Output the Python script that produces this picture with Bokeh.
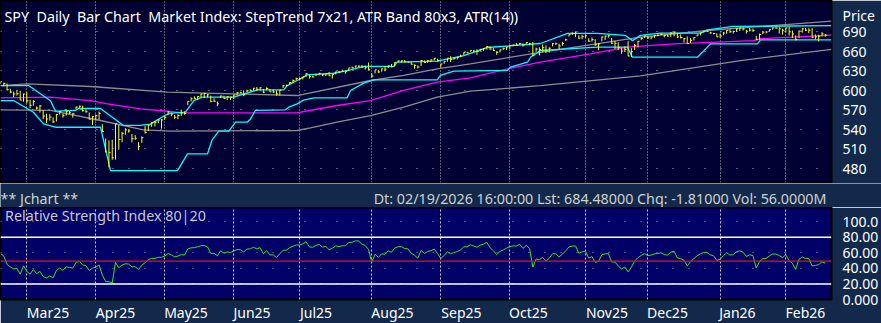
import numpy as np
from bokeh.plotting import figure
from bokeh.layouts import column
from bokeh.models import Range1d, FixedTicker, Span
from bokeh.core.properties import value
from bokeh.embed import file_html
from bokeh.resources import INLINE

# ---------------- data (SPY daily, 2025-02-19 .. 2026-02-19) ----------------
history_closes = [603.05, 606.44, 609.75, 607.97, 599.37, 604.52, 601.81, 605.04, 601.82, 597.77,
                  601.78, 604.22, 606.32, 600.77, 604.85, 605.31, 603.36, 609.73, 609.70, 611.49]

feb25_c = [612.93, 610.38, 600.77, 597.21, 594.24, 594.54, 584.96, 594.18]
feb25_h = [613.23, 611.49, 610.30, 602.23, 597.89, 599.58, 599.05, 594.72]
feb25_l = [609.56, 605.86, 599.47, 595.44, 589.56, 591.86, 584.55, 582.44]

mar25_c = [583.77, 576.86, 583.06, 572.71, 575.92, 560.58, 555.92, 558.87, 551.42, 562.81, 567.15,
           561.02, 567.13, 565.49, 563.98, 574.08, 575.46, 568.59, 567.08, 555.66, 559.39]
mar25_h = [597.34, 585.39, 584.88, 575.15, 577.39, 569.40, 564.02, 563.11, 558.39, 563.83, 568.01,
           564.45, 570.95, 568.18, 564.89, 575.15, 576.41, 576.33, 570.68, 565.94, 560.71]
mar25_l = [579.90, 572.25, 576.32, 570.16, 565.63, 555.62, 549.68, 553.35, 549.68, 551.88, 562.58,
           558.03, 561.02, 563.68, 558.03, 570.91, 573.03, 567.19, 565.61, 555.06, 546.87]

apr25_c = [560.97, 564.52, 536.70, 505.28, 504.38, 496.48, 548.62, 524.58, 533.94, 539.12, 537.61,
           525.66, 526.41, 513.88, 527.25, 535.42, 546.69, 550.64, 550.85, 554.32, 554.54]
apr25_h = [562.94, 567.42, 547.97, 525.87, 523.17, 524.00, 548.62, 546.69, 536.43, 541.82, 539.72,
           533.04, 531.17, 520.43, 529.24, 545.43, 547.43, 551.30, 553.21, 555.45, 555.78]
apr25_l = [553.68, 554.81, 536.42, 505.06, 481.80, 493.46, 493.55, 508.84, 520.29, 531.89, 535.10,
           520.07, 523.91, 508.14, 519.32, 533.71, 537.41, 543.57, 544.48, 549.42, 541.27]

may25_c = [558.47, 566.76, 563.51, 558.80, 561.15, 565.06, 564.34, 582.99, 586.84, 587.59, 590.46,
           594.20, 594.85, 592.85, 582.86, 583.09, 579.11, 591.15, 587.21, 590.05, 589.39]
may25_h = [560.45, 568.07, 564.95, 562.09, 563.06, 570.34, 567.50, 583.00, 589.08, 590.72, 590.97,
           594.50, 595.54, 594.05, 591.74, 587.78, 582.70, 591.69, 591.54, 591.08, 590.14]
may25_l = [554.68, 562.76, 560.24, 556.10, 555.62, 560.71, 562.63, 577.04, 582.86, 586.57, 585.10,
           589.28, 588.10, 589.06, 581.75, 581.94, 575.59, 587.98, 586.90, 584.93, 585.05]

jun25_c = [592.71, 596.09, 595.93, 593.05, 599.14, 599.68, 603.08, 601.36, 603.75, 597.00,
           602.68, 597.53, 597.44, 594.28, 600.15, 606.78, 607.12, 611.87, 614.91, 617.85]
jun25_h = [592.79, 597.08, 597.55, 599.70, 600.83, 601.59, 603.42, 605.06, 604.55, 601.85,
           604.45, 601.75, 601.22, 599.76, 600.54, 607.85, 608.61, 612.31, 616.39, 619.22]
jun25_l = [586.59, 591.85, 595.48, 590.96, 596.86, 598.89, 599.52, 599.21, 599.52, 595.47,
           600.22, 597.28, 595.78, 591.89, 591.68, 603.41, 605.54, 608.37, 610.83, 615.04]

jul25_c = [617.65, 620.45, 625.34, 620.68, 620.34, 624.06, 625.82, 623.62, 624.81, 622.14, 624.22,
           628.04, 627.58, 628.77, 628.86, 634.21, 634.42, 637.10, 636.94, 635.26, 634.46, 632.08]
jul25_h = [618.83, 620.49, 626.28, 624.03, 622.11, 624.72, 626.87, 624.86, 625.16, 627.86, 624.73,
           628.40, 629.47, 631.54, 629.05, 634.21, 636.23, 637.58, 638.04, 638.67, 637.68, 642.38]
jul25_l = [615.41, 616.61, 620.52, 617.87, 619.52, 621.53, 623.01, 621.53, 621.80, 622.06, 618.05,
           624.37, 626.93, 628.34, 625.30, 629.63, 633.54, 634.54, 635.48, 634.35, 631.54, 630.56]

aug25_c = [621.72, 631.17, 627.97, 632.78, 632.25, 637.18, 635.92, 642.69, 644.89, 644.95, 643.44,
           643.30, 639.81, 638.11, 635.55, 645.31, 642.47, 645.16, 646.38, 648.92, 645.05]
aug25_h = [626.34, 631.33, 631.17, 633.07, 636.96, 637.65, 640.12, 642.85, 645.37, 645.68, 646.19,
           644.00, 644.11, 639.66, 637.97, 646.50, 645.50, 646.06, 647.37, 649.48, 648.23]
aug25_l = [619.29, 625.80, 626.63, 628.29, 629.02, 633.97, 634.91, 636.85, 642.85, 642.24, 642.68,
           642.18, 639.12, 632.95, 633.29, 637.25, 642.34, 641.86, 643.14, 645.34, 643.51]

sep25_c = [640.27, 643.74, 649.12, 647.24, 648.83, 650.33, 652.21, 657.63, 657.41, 660.91, 660.00,
           659.18, 662.26, 663.70, 666.84, 663.21, 661.10, 658.05, 661.82, 663.68, 666.18]
sep25_h = [640.48, 644.21, 649.15, 652.21, 649.96, 650.86, 654.55, 658.33, 659.11, 661.04, 661.40,
           662.63, 663.59, 664.11, 667.34, 667.34, 664.61, 659.41, 662.37, 665.28, 666.65]
sep25_l = [634.92, 640.47, 643.51, 643.20, 646.72, 647.22, 650.63, 653.59, 656.90, 658.81, 658.43,
           654.23, 659.64, 660.21, 662.17, 661.98, 660.12, 654.43, 657.88, 661.61, 661.61]

oct25_c = [668.45, 669.22, 669.21, 671.61, 669.12, 673.11, 671.16, 653.02, 663.04, 662.23, 665.17, 660.64,
           664.39, 671.30, 671.29, 667.80, 671.76, 677.25, 685.24, 687.06, 687.39, 679.83, 682.06]
oct25_h = [669.37, 670.28, 672.68, 672.51, 671.90, 673.23, 672.68, 673.95, 665.13, 665.83, 670.23, 668.71,
           665.76, 672.21, 672.99, 671.41, 674.14, 678.86, 685.54, 688.91, 690.00, 684.16, 685.08]
oct25_l = [663.06, 667.33, 668.16, 669.61, 666.92, 670.16, 668.84, 652.84, 659.05, 653.17, 658.14, 657.11,
           657.69, 667.27, 669.41, 662.55, 668.17, 675.70, 682.10, 684.54, 681.32, 678.58, 678.26]

nov25_c = [683.34, 675.24, 677.58, 669.80, 670.97, 681.44, 683.00, 683.38, 672.04, 671.93,
           665.67, 660.08, 662.63, 652.53, 659.03, 668.73, 675.02, 679.68, 683.39]
nov25_h = [685.30, 679.35, 680.86, 678.10, 671.75, 682.18, 683.64, 684.96, 680.25, 675.72,
           673.71, 665.12, 667.23, 675.56, 664.55, 670.87, 675.54, 681.44, 683.74]
nov25_l = [679.94, 674.08, 674.34, 668.20, 661.21, 675.02, 677.07, 680.59, 670.99, 663.27,
           661.61, 655.86, 658.97, 651.89, 650.85, 661.66, 665.38, 676.78, 680.16]

dec25_c = [680.27, 681.53, 683.89, 684.39, 685.69, 683.63, 683.04, 687.57, 689.17, 681.76, 680.73,
           678.87, 671.40, 676.47, 680.59, 684.83, 687.96, 690.38, 690.31, 687.85, 687.01, 681.92]
dec25_h = [682.88, 682.91, 684.63, 685.27, 687.42, 685.39, 684.96, 688.88, 689.64, 687.41, 685.50,
           679.91, 682.45, 679.78, 681.09, 685.36, 688.20, 690.58, 691.66, 689.61, 688.04, 687.36]
dec25_l = [678.50, 677.95, 679.84, 682.70, 684.61, 680.96, 682.11, 681.71, 682.40, 679.99, 679.24,
           673.27, 671.23, 672.35, 676.17, 682.34, 684.04, 688.25, 689.26, 686.34, 685.60, 681.37]

jan26_c = [683.17, 687.72, 691.81, 689.58, 690.00, 694.07, 695.16, 694.00, 690.36, 692.24,
           691.66, 677.58, 685.40, 688.98, 689.23, 692.73, 695.49, 695.42, 694.04, 691.97]
jan26_h = [687.07, 689.35, 692.08, 693.28, 691.20, 694.86, 695.97, 696.09, 692.43, 695.34,
           694.50, 683.21, 686.84, 690.91, 690.40, 693.38, 696.21, 697.84, 696.47, 694.23]
jan26_l = [680.30, 684.18, 686.57, 687.97, 686.92, 689.48, 690.82, 691.52, 686.74, 689.95,
           690.35, 676.56, 676.88, 685.96, 687.44, 689.90, 692.65, 694.03, 686.64, 685.12]

feb26_c = [695.41, 689.53, 686.19, 677.62, 690.62, 693.95, 692.12, 691.96, 681.27, 681.75, 682.85, 686.29, 684.48]
feb26_h = [696.00, 697.40, 691.48, 683.92, 691.23, 695.00, 695.50, 694.99, 695.08, 685.60, 684.90, 689.03, 686.40]
feb26_l = [688.47, 684.10, 679.93, 676.25, 680.20, 688.40, 690.62, 687.40, 679.80, 677.80, 674.53, 682.30, 681.90]

closes = (feb25_c + mar25_c + apr25_c + may25_c + jun25_c + jul25_c + aug25_c + sep25_c
          + oct25_c + nov25_c + dec25_c + jan26_c + feb26_c)
highs = (feb25_h + mar25_h + apr25_h + may25_h + jun25_h + jul25_h + aug25_h + sep25_h
         + oct25_h + nov25_h + dec25_h + jan26_h + feb26_h)
lows = (feb25_l + mar25_l + apr25_l + may25_l + jun25_l + jul25_l + aug25_l + sep25_l
        + oct25_l + nov25_l + dec25_l + jan26_l + feb26_l)
assert len(closes) == len(highs) == len(lows) == 252

# month starts (bar index, grid lines) and the centres of their labels (bar index)
month_starts = [8, 29, 50, 71, 91, 113, 134, 155, 178, 197, 219, 239]
month_label_pos = [14.46, 35.0, 56.45, 76.54, 96.01, 119.29, 140.29, 160.68, 184.57, 202.98, 224.28, 244.98]
month_labels = ["Mar25", "Apr25", "May25", "Jun25", "Jul25", "Aug25",
                "Sep25", "Oct25", "Nov25", "Dec25", "Jan26", "Feb26"]

# indicator lines (bar index, price)
step_upper_x = [0, 8.52, 15.22, 16.74, 22.82, 23.74, 30.43, 37.43, 42.6, 45.65, 50.21, 51.73, 56.3,
                58.83, 61.38, 71.0, 78.12, 86.21, 87.25, 90.29, 93.34, 101.43, 106.51, 110.56, 119.69,
                120.72, 132.9, 141.0, 148.2, 164.33, 172.55, 181.68, 190.2, 192.33, 194.77, 200.85,
                213.02, 215.15, 223.07, 252.9]
step_upper_y = [607.2, 607.2, 584.0, 568.0, 569.0, 572.0, 572.0, 546.0, 546.0, 548.0, 562.0, 565.0, 566.3,
                584.0, 589.3, 589.3, 600.6, 600.6, 607.0, 614.9, 623.6, 626.0, 631.3, 636.4, 636.4,
                643.0, 644.5, 653.2, 665.5, 671.6, 687.0, 687.0, 684.0, 676.0, 684.0, 687.4,
                687.4, 692.6, 697.7, 699.0]

step_lower_x = [0, 3.96, 10.04, 13.09, 16.74, 30.43, 33.48, 53.87, 56.91, 63.0, 64.42, 66.43, 69.48,
                71.52, 75.08, 76.08, 77.6, 86.73, 87.74, 90.29, 92.3, 95.34, 105.51, 106.51, 110.56,
                113.6, 132.9, 133.9, 137.96, 154.29, 155.2, 160.38, 161.29, 164.33, 181.68, 190.81,
                192.33, 212.1, 215.15, 216.07, 230.37, 231.28, 252.9]
step_lower_y = [584.2, 584.2, 566.3, 548.5, 543.3, 543.3, 476.9, 476.9, 502.5, 502.5, 524.0, 537.2, 537.2,
                551.0, 551.0, 556.0, 569.0, 570.0, 574.0, 579.0, 585.0, 588.4, 588.4, 599.6, 610.8,
                616.0, 616.0, 622.6, 629.2, 630.3, 635.3, 642.9, 650.6, 660.9, 666.0, 666.0,
                650.6, 650.6, 666.0, 671.1, 671.1, 677.3, 677.3]

trend_x = [0, 15.22, 27.39, 32.56, 42.6, 51.73, 54.78, 90.29, 92.3, 102.4, 112.6, 122.7, 132.9, 143.0,
           154.3, 164.3, 179.5, 190.8, 204.8, 229.2, 231.3, 252.9]
trend_y = [588.4, 589.3, 584.2, 579.2, 571.5, 567.4, 565.4, 565.4, 567.4, 576.6, 584.2, 599.6, 612.3, 619.0,
           632.8, 643.0, 655.8, 666.0, 671.0, 676.0, 679.0, 684.5]

band_up_x = [0, 8.22, 27.39, 50.82, 70.9, 90.29, 112.6, 122.7, 132.9, 143.0, 164.3, 194.8, 215.2, 252.9]
band_up_y = [607.2, 609.8, 605.7, 597.0, 594.5, 591.9, 614.9, 622.6, 632.8, 640.5, 658.0, 681.3, 691.5, 706.0]
band_lo_x = [0, 15.22, 30.43, 43.5, 51.73, 90.29, 94.34, 102.4, 112.6, 122.7, 132.9, 143.0, 164.3,
             194.8, 225.2, 252.9]
band_lo_y = [570.0, 569.0, 553.6, 539.3, 537.2, 538.3, 542.4, 551.0, 561.2, 574.0, 589.3, 598.5, 607.0,
             622.0, 645.5, 662.5]

rsi_period = 14
rsi_upper, rsi_lower, rsi_signal = 80, 20, 49.3
price_ticks = [480, 510, 540, 570, 600, 630, 660, 690]
rsi_ticks = [0, 20, 40, 60, 80, 100]
rsi_tick_labels = ["0.000", "20.00", "40.00", "60.00", "80.00", "100.0"]

title_text = "SPY\u00a0 Daily\u00a0 Bar Chart\u00a0 Market Index: StepTrend 7x21, ATR Band 80x3, ATR(14))"
left_info = "** Jchart **"
right_info = "Dt: 02/19/2026 16:00:00 Lst: 684.48000 Chq: -1.81000 Vol: 56.0000M"
rsi_title = "Relative Strength Index 80|20"

# ---------------- RSI (Wilder, SMA seeded) ----------------
all_c = np.array(history_closes + closes, dtype=float)
diffs = np.diff(all_c)
gains = np.clip(diffs, 0, None)
losses = np.clip(-diffs, 0, None)
ag = gains[:rsi_period].mean()
al = losses[:rsi_period].mean()
rsi_full = {}
for i in range(rsi_period, len(diffs)):
    ag = (ag * (rsi_period - 1) + gains[i]) / rsi_period
    al = (al * (rsi_period - 1) + losses[i]) / rsi_period
    rsi_full[i + 1] = 100 - 100 / (1 + ag / al)
h = len(history_closes)
rsi = np.array([rsi_full[k] for k in range(h, len(all_c))])

# ---------------- styling ----------------
FONT = "Noto Sans"
NAVY = "#13294b"
TOP_BG = "#000033"
RSI_BG = "#000066"
idx = np.arange(len(closes))
xr = Range1d(0, 252.9)


def style_axis(ax):
    ax.axis_line_color = None
    ax.major_tick_line_color = None
    ax.minor_tick_line_color = None
    ax.major_label_text_color = "white"
    ax.major_label_text_font = FONT
    ax.major_label_text_font_size = "14px"


# price panel
p1 = figure(frame_width=831, frame_height=182, x_range=xr, y_range=Range1d(458.6, 737.5),
            output_backend="svg", toolbar_location=None, x_axis_location=None,
            y_axis_location="right", min_border_left=0, min_border_top=0,
            min_border_bottom=1, min_border_right=50)
p1.background_fill_color = TOP_BG
p1.border_fill_color = NAVY
p1.outline_line_color = "black"
p1.outline_line_width = 2
style_axis(p1.yaxis[0])
p1.yaxis[0].ticker = FixedTicker(ticks=price_ticks + [714])
p1.yaxis[0].major_label_overrides = {714: "Price"}
p1.yaxis[0].major_label_standoff = 5
p1.ygrid.ticker = FixedTicker(ticks=price_ticks)
p1.ygrid.grid_line_color = "#b8b8b8"
p1.ygrid.grid_line_dash = "1 15"
p1.xgrid.ticker = FixedTicker(ticks=month_starts)
p1.xgrid.grid_line_color = "#b8b8b8"
p1.xgrid.grid_line_dash = "1 2"

p1.line(band_up_x, band_up_y, color="#8c8c8c", line_width=1.3)
p1.line(band_lo_x, band_lo_y, color="#8c8c8c", line_width=1.3)
p1.line(trend_x, trend_y, color="#ff00ff", line_width=1.3)
p1.line(step_upper_x, step_upper_y, color="#00ffff", line_width=1.3)
p1.line(step_lower_x, step_lower_y, color="#00ffff", line_width=1.3)
p1.segment(x0=idx, y0=lows, x1=idx, y1=highs, color="#ffff00", line_width=1)
p1.segment(x0=idx, y0=closes, x1=idx + 0.5, y1=closes, color="#ffff00", line_width=1)
p1.text(x=[1.2], y=[713.4], text=[title_text], text_color="white", text_font=value(FONT),
        text_font_size="14.3px", text_baseline="alphabetic", text_align="left")

# info strip
pm = figure(frame_width=881, frame_height=24, x_range=Range1d(0, 881), y_range=Range1d(0, 24),
            output_backend="svg", toolbar_location=None, x_axis_location=None,
            y_axis_location=None, min_border=0)
pm.grid.visible = False
pm.outline_line_color = None
pm.background_fill_color = NAVY
pm.border_fill_color = NAVY
pm.text(x=[0], y=[9], text=[left_info], text_color="#d0d0d0", text_font=value(FONT),
        text_font_size="14.3px", text_baseline="alphabetic", text_align="left")
pm.text(x=[826], y=[9.5], text=[right_info], text_color="#d0d0d0", text_font=value(FONT),
        text_font_size="14.3px", text_baseline="alphabetic", text_align="right")

# RSI panel
p2 = figure(frame_width=831, frame_height=92, x_range=xr, y_range=Range1d(0, 118.4),
            output_backend="svg", toolbar_location=None, y_axis_location="right",
            min_border_left=0, min_border_top=0, min_border_bottom=24, min_border_right=50)
p2.background_fill_color = RSI_BG
p2.border_fill_color = NAVY
p2.outline_line_color = "black"
p2.outline_line_width = 2
style_axis(p2.yaxis[0])
p2.yaxis[0].ticker = FixedTicker(ticks=rsi_ticks)
p2.yaxis[0].major_label_overrides = dict(zip(rsi_ticks, rsi_tick_labels))
p2.yaxis[0].major_label_standoff = 5
style_axis(p2.xaxis[0])
p2.xaxis[0].ticker = FixedTicker(ticks=month_label_pos)
p2.xaxis[0].major_label_overrides = dict(zip(month_label_pos, month_labels))
p2.xaxis[0].major_label_standoff = -3
p2.xgrid.ticker = FixedTicker(ticks=month_starts)
p2.ygrid.grid_line_color = "#9090a8"
p2.ygrid.grid_line_dash = "1 15"
p2.xgrid.grid_line_color = "#c8c8c8"
p2.xgrid.grid_line_dash = "2 2"

p2.add_layout(Span(location=rsi_upper, dimension="width", line_color="white", line_width=1.5))
p2.add_layout(Span(location=rsi_lower, dimension="width", line_color="white", line_width=1.5))
p2.line(idx, rsi, color="#22ee22", line_width=1)
p2.add_layout(Span(location=rsi_signal, dimension="width", line_color="#ee1111", line_width=1.2))
p2.text(x=[1.4], y=[108.1], text=[rsi_title], text_color="#c8c8c8",
        text_font=value(FONT), text_font_size="14.3px", text_baseline="alphabetic", text_align="left")

layout = column(p1, pm, p2, spacing=0)
open("out.html", "w").write(file_html(layout, INLINE))
